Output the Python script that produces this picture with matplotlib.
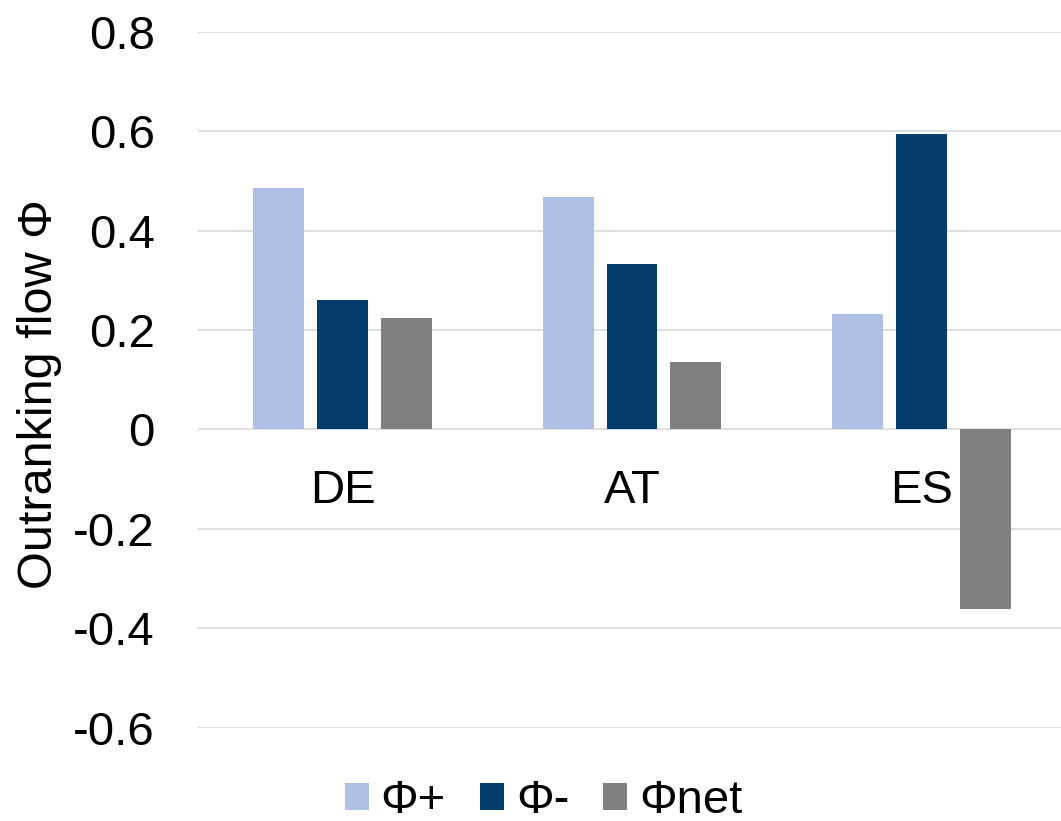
import matplotlib
matplotlib.use("Agg")
import matplotlib.pyplot as plt
import numpy as np

countries = ["DE", "AT", "ES"]
series_names = ["Φ+", "Φ-", "Φnet"]
phi_plus = [0.486, 0.467, 0.232]
phi_minus = [0.261, 0.332, 0.594]
phi_net = [0.225, 0.135, -0.362]
y_ticks = [-0.6, -0.4, -0.2, 0, 0.2, 0.4, 0.6, 0.8]
y_tick_labels = ["-0.6", "-0.4", "-0.2", "0", "0.2", "0.4", "0.6", "0.8"]
colors = ["#AFBFE5", "#033D6B", "#808080"]

plt.rcParams["font.family"] = ["Liberation Sans", "DejaVu Sans"]
FS = 34

fig = plt.figure(figsize=(10.61, 8.21), dpi=100)
ax = fig.add_axes([198 / 1061, 1 - 727.5 / 821, (1066 - 198) / 1061, (727.5 - 32) / 821])

x = np.arange(len(countries))
width = 0.176
pitch = 0.221
for k, (vals, name, c) in enumerate(zip([phi_plus, phi_minus, phi_net], series_names, colors)):
    ax.bar(x + (k - 1) * pitch, vals, width, color=c, label=name, zorder=3)

ax.set_xlim(-0.5, len(countries) - 0.5)
ax.set_ylim(-0.6, 0.8)
ax.set_yticks(y_ticks)
ax.set_yticklabels(y_tick_labels, fontsize=FS)
ax.tick_params(axis="y", length=0, pad=31)
ax.set_xticks([])
ax.grid(axis="y", color="#D9D9D9", linewidth=1.2, zorder=0)
for s in ax.spines.values():
    s.set_visible(False)

for i, name in enumerate(countries):
    ax.text(i, -0.149, name, ha="center", va="baseline", fontsize=FS)

fig.text(40 / 1061, 1 - 394 / 821, "Outranking flow Φ", rotation=90,
         ha="center", va="center", fontsize=35)

fig.legend(loc="center", bbox_to_anchor=(543.5 / 1061, 1 - 801 / 821), ncol=3,
           frameon=False, fontsize=FS, borderpad=0, handlelength=0.51,
           handleheight=0.51, handletextpad=0.25, columnspacing=0.72)

fig.savefig("out.png", dpi=100)
